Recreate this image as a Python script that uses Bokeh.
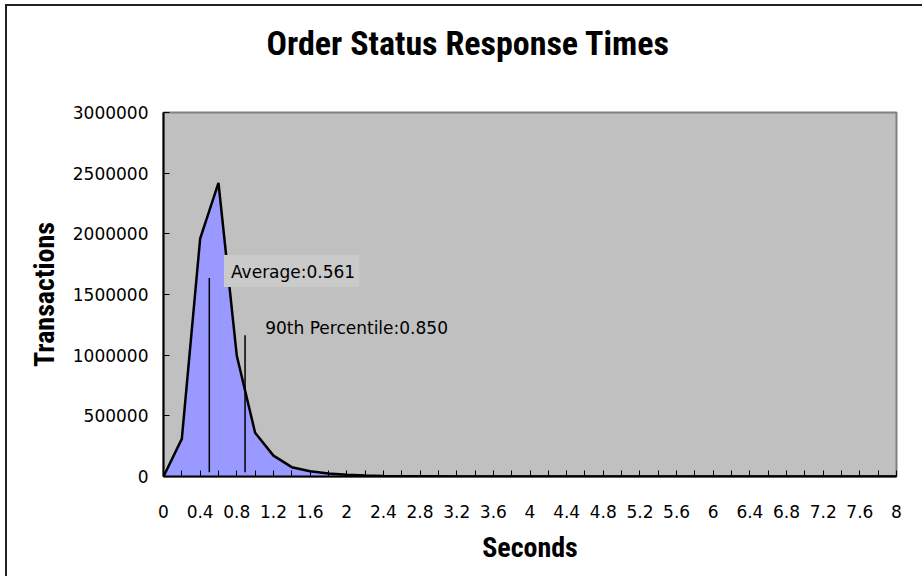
from bokeh.plotting import figure
from bokeh.layouts import column, row
from bokeh.models import (Range1d, FixedTicker, NumeralTickFormatter, Div,
                          CustomJSTickFormatter, Label, ColumnDataSource, Title)
from bokeh.embed import file_html
from bokeh.resources import INLINE

# ---- data ----
seconds = [0.0, 0.2, 0.4, 0.6, 0.8, 1.0, 1.2, 1.4, 1.6, 1.8,
           2.0, 2.2, 2.4, 2.6, 2.8, 3.0, 3.2, 3.4, 3.6, 3.8,
           4.0, 4.2, 4.4, 4.6, 4.8, 5.0, 5.2, 5.4, 5.6, 5.8,
           6.0, 6.2, 6.4, 6.6, 6.8, 7.0, 7.2, 7.4, 7.6, 7.8, 8.0]
transactions = [0, 310000, 1960000, 2420000, 995000, 360000, 172000, 77000, 44000, 25000,
                14000, 8000, 5000, 3000, 2000, 1500, 1000, 800, 600, 500,
                400, 300, 250, 200, 150, 120, 100, 80, 60, 50,
                40, 30, 25, 20, 15, 10, 8, 6, 4, 2, 1]
x_ticks = [0, 0.4, 0.8, 1.2, 1.6, 2, 2.4, 2.8, 3.2, 3.6, 4,
           4.4, 4.8, 5.2, 5.6, 6, 6.4, 6.8, 7.2, 7.6, 8]
x_minor_ticks = [0.2, 0.6, 1.0, 1.4, 1.8, 2.2, 2.6, 3.0, 3.4, 3.8,
                 4.2, 4.6, 5.0, 5.4, 5.8, 6.2, 6.6, 7.0, 7.4, 7.8]
y_ticks = [0, 500000, 1000000, 1500000, 2000000, 2500000, 3000000]

marker_x = [0.50, 0.89]
marker_top = [1636000, 1165000]
marker_bottom = [35000, 35000]
title_text = "Order Status Response Times"
avg_text = "Average:0.561"
p90_text = "90th Percentile:0.850"

TITLE_FONT = "'Liberation Sans Narrow', 'Roboto Condensed', Roboto, sans-serif"
BODY_FONT = "'DejaVu Sans', sans-serif"

p = figure(width=912, height=570, output_backend="svg", toolbar_location=None,
           x_range=Range1d(0, 8), y_range=Range1d(0, 3000000),
           min_border_left=156, min_border_right=23, min_border_top=106,
           min_border_bottom=100, background_fill_color="#C0C0C0",
           border_fill_color="white", title=title_text)

p.title.text_font = TITLE_FONT
p.title.text_font_size = "34px"
p.title.text_font_style = "bold"
p.title.text_color = "black"
p.title.align = "left"
p.title.offset = 103
p.title.vertical_align = "top"
p.title.standoff = 0

# empty spacer between the title and the plot area
p.add_layout(Title(text=" ", text_font_size="10px", standoff=35), "above")

p.outline_line_color = "#808080"
p.outline_line_width = 2
p.grid.visible = False

src = ColumnDataSource(dict(x=seconds, y=transactions))
p.varea(x="x", y1=0, y2="y", source=src, fill_color="#9999FF")
p.line(x="x", y="y", source=src, line_color="black", line_width=2.5)

p.segment(x0=marker_x, y0=marker_bottom, x1=marker_x, y1=marker_top,
          line_color="black", line_width=1.5)

p.add_layout(Label(x=0.66, y=1693000, text=avg_text, text_font=BODY_FONT,
                   text_font_size="17px", text_baseline="middle", text_color="black",
                   background_fill_color="#CACACA", padding=(7, 4, 7, 5)))
p.add_layout(Label(x=1.11, y=1223000, text=p90_text, text_font=BODY_FONT,
                   text_font_size="17px", text_baseline="middle", text_color="black"))

for ax in (p.xaxis[0], p.yaxis[0]):
    ax.axis_line_color = "black"
    ax.axis_line_width = 2
    ax.major_tick_line_color = "black"
    ax.major_tick_line_width = 1
    ax.major_tick_in = 6
    ax.major_tick_out = 0
    ax.major_label_text_font = BODY_FONT
    ax.major_label_text_font_size = "17px"
    ax.major_label_text_color = "black"
    ax.axis_label_text_font = TITLE_FONT
    ax.axis_label_text_font_size = "28px"
    ax.axis_label_text_font_style = "bold"
    ax.axis_label_text_color = "black"

p.xaxis.ticker = FixedTicker(ticks=x_ticks, minor_ticks=x_minor_ticks)
p.xaxis.formatter = CustomJSTickFormatter(code="return String(Math.round(tick*10)/10);")
p.xaxis.minor_tick_in = 6
p.xaxis.minor_tick_out = 0
p.xaxis.minor_tick_line_color = "black"
p.xaxis.major_label_standoff = 28
p.xaxis.axis_label = "Seconds"
p.xaxis.axis_label_standoff = 10

p.yaxis.ticker = FixedTicker(ticks=y_ticks, minor_ticks=[])
p.yaxis.formatter = NumeralTickFormatter(format="0")
p.yaxis.minor_tick_line_color = None
p.yaxis.major_label_standoff = 15
p.yaxis.axis_label = "Transactions"
p.yaxis.axis_label_standoff = 9

# chart-area frame lines (top and left edges)
top_rule = Div(text="", width=917, height=2, margin=0,
               styles={"background-color": "#222222"})
left_rule = Div(text="", width=2, height=570, margin=0,
                styles={"background-color": "#222222"})
layout = column(top_rule, row(left_rule, p, spacing=0), spacing=0,
                styles={"margin-left": "5px", "margin-top": "4px"})

open("out.html", "w").write(file_html(layout, INLINE))
